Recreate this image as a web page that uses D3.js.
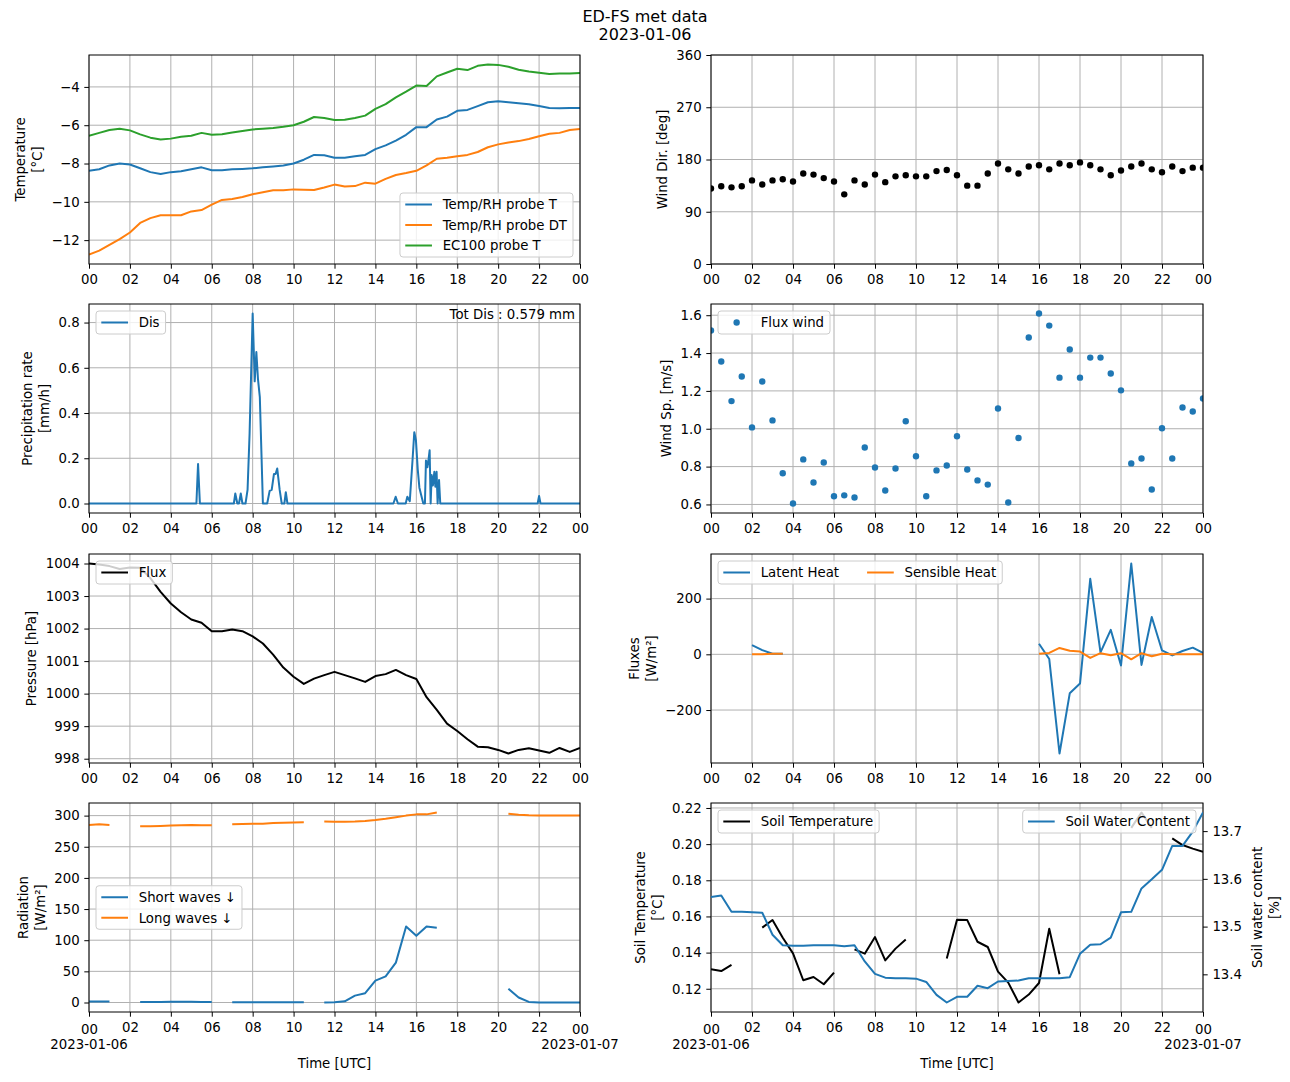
<!DOCTYPE html>
<html lang="en">
<head>
<meta charset="UTF-8">
<title>ED-FS met data</title>
<style>
  body { margin: 0; background: #fff; }
  text { font-family: "DejaVu Sans", sans-serif; fill: #000; }
  .tick text { font-size: 13.3px; }
</style>
</head>
<body>
<svg></svg>
<script src="https://d3js.org/d3.v7.min.js"></script>
<script>
// ---- data ----
const titleLines = ["ED-FS met data", "2023-01-06"];
const dateLabels = ["2023-01-06", "2023-01-07"];
const xTicks = [0, 2, 4, 6, 8, 10, 12, 14, 16, 18, 20, 22, 24];
const xTickLabels = ["00", "02", "04", "06", "08", "10", "12", "14", "16", "18", "20", "22", "00"];

// half-hour time base (hours since 2023-01-06 00:00 UTC)
const hours = [0, 0.5, 1, 1.5, 2, 2.5, 3, 3.5, 4, 4.5, 5, 5.5, 6, 6.5, 7, 7.5, 8, 8.5, 9, 9.5,
  10, 10.5, 11, 11.5, 12, 12.5, 13, 13.5, 14, 14.5, 15, 15.5, 16, 16.5, 17, 17.5, 18, 18.5, 19, 19.5,
  20, 20.5, 21, 21.5, 22, 22.5, 23, 23.5, 24];

const tempT = [-8.38, -8.3, -8.1, -8.0, -8.05, -8.25, -8.45, -8.55, -8.45, -8.4,
  -8.3, -8.2, -8.35, -8.35, -8.3, -8.28, -8.25, -8.2, -8.15, -8.1,
  -8.0, -7.8, -7.55, -7.57, -7.7, -7.7, -7.62, -7.55, -7.25, -7.05,
  -6.8, -6.5, -6.1, -6.1, -5.7, -5.55, -5.25, -5.2, -5.0, -4.8,
  -4.75, -4.8, -4.85, -4.9, -5.0, -5.1, -5.12, -5.1, -5.1];
const tempDT = [-12.75, -12.55, -12.25, -11.95, -11.6, -11.1, -10.85, -10.7, -10.7, -10.7,
  -10.5, -10.43, -10.15, -9.9, -9.85, -9.75, -9.6, -9.5, -9.4, -9.4,
  -9.35, -9.37, -9.38, -9.25, -9.1, -9.2, -9.18, -9.0, -9.05, -8.8,
  -8.6, -8.5, -8.38, -8.1, -7.75, -7.7, -7.62, -7.55, -7.4, -7.15,
  -7.0, -6.9, -6.83, -6.72, -6.58, -6.45, -6.4, -6.25, -6.2];
const ec100T = [-6.55, -6.4, -6.25, -6.18, -6.27, -6.48, -6.65, -6.75, -6.7, -6.6,
  -6.55, -6.4, -6.5, -6.47, -6.38, -6.3, -6.22, -6.18, -6.14, -6.08,
  -6.0, -5.82, -5.57, -5.62, -5.73, -5.72, -5.62, -5.5, -5.15, -4.9,
  -4.55, -4.25, -3.93, -3.95, -3.45, -3.25, -3.05, -3.12, -2.9, -2.83,
  -2.85, -2.95, -3.1, -3.2, -3.26, -3.33, -3.3, -3.3, -3.28];
const tempTicks = [-12, -10, -8, -6, -4];

const precipTime = [0, 5.25, 5.33, 5.42, 7.08, 7.15, 7.25, 7.33, 7.42, 7.5, 7.65, 7.75, 7.85, 8.0,
  8.1, 8.18, 8.26, 8.35, 8.5, 8.71, 8.83, 8.93, 9.04, 9.12, 9.2, 9.32, 9.42, 9.55, 9.62, 9.7,
  14.88, 14.99, 15.1, 15.48, 15.56, 15.68, 15.82, 15.9, 15.98, 16.07, 16.15, 16.23, 16.34, 16.42,
  16.47, 16.54, 16.59, 16.65, 16.7, 16.75, 16.81, 16.88, 16.93, 16.99, 17.04, 17.11, 17.17,
  21.93, 22.0, 22.07, 24];
const precipRate = [0, 0, 0.175, 0, 0, 0.044, 0, 0, 0.044, 0, 0, 0.06, 0.31, 0.84,
  0.54, 0.67, 0.55, 0.47, 0, 0, 0.056, 0.06, 0.13, 0.13, 0.155, 0.06, 0, 0, 0.05, 0,
  0, 0.03, 0, 0, 0.03, 0.01, 0.2, 0.315, 0.28, 0.15, 0.07, 0.04, 0, 0,
  0.19, 0.16, 0.19, 0.235, 0, 0.126, 0.08, 0.14, 0.074, 0.14, 0, 0.104, 0,
  0, 0.033, 0, 0];
const precipTicks = [0, 0.2, 0.4, 0.6, 0.8];
const totDisText = "Tot Dis : 0.579 mm";

const pressure = [1004.0, 1003.97, 1003.92, 1003.83, 1003.88, 1003.87, 1003.55, 1003.13, 1002.77, 1002.5,
  1002.28, 1002.18, 1001.92, 1001.92, 1001.97, 1001.92, 1001.76, 1001.54, 1001.2, 1000.8,
  1000.52, 1000.3, 1000.46, 1000.57, 1000.67, 1000.57, 1000.47, 1000.36, 1000.54, 1000.6,
  1000.73, 1000.57, 1000.45, 999.89, 999.5, 999.08, 998.85, 998.6, 998.37, 998.35,
  998.27, 998.16, 998.27, 998.32, 998.25, 998.18, 998.33, 998.21, 998.33];
const pressTicks = [998, 999, 1000, 1001, 1002, 1003, 1004];

const shortWave = [1.5, 1.5, 1.5, null, null, 1, 1, 1, 1.2, 1.2,
  1.2, 1, 1, null, 0.5, 0.5, 0.5, 0.5, 0.5, 0.5,
  0.5, 0.5, null, 0, 0.5, 2, 11, 15, 35, 42,
  64, 122, 107, 122, 120, null, null, null, null, null,
  null, 22, 8, 1, 0, 0, 0, 0, 0];
const longWave = [285, 286, 285, null, null, 283, 283, 283.5, 284, 284.5,
  285, 284.5, 284.5, null, 286, 286.5, 287, 287, 288, 288.5,
  289, 289.5, null, 290.5, 290, 290, 290.5, 291.5, 293, 295,
  297.5, 300, 302, 302, 305, null, null, null, null, null,
  null, 303, 301.5, 300.5, 300, 300, 300, 300, 300];
const radTicks = [0, 50, 100, 150, 200, 250, 300];

const windDir = [130, 134, 132, 134, 144, 137, 144, 146, 142, 156,
  154, 148, 142, 120, 144, 137, 154, 141, 151, 153,
  151, 151, 160, 162, 153, 135, 135, 156, 173, 163,
  156, 168, 170, 163, 173, 170, 175, 170, 163, 153,
  161, 168, 173, 163, 158, 168, 160, 166, 166];
const dirTicks = [0, 90, 180, 270, 360];

const windSpeed = [1.519, 1.355, 1.146, 1.276, 1.007, 1.25, 1.044, 0.765, 0.605, 0.838,
  0.716, 0.822, 0.643, 0.648, 0.637, 0.901, 0.795, 0.674, 0.79, 1.04,
  0.855, 0.643, 0.78, 0.806, 0.96, 0.785, 0.727, 0.705, 1.107, 0.61,
  0.951, 1.482, 1.609, 1.545, 1.27, 1.419, 1.27, 1.376, 1.376, 1.292,
  1.203, 0.817, 0.843, 0.679, 1.003, 0.843, 1.112, 1.091, 1.16];
const speedTicks = [0.6, 0.8, 1.0, 1.2, 1.4, 1.6];

const latentHeat = [null, null, null, null, 33, 15, 2, 2, null, null,
  null, null, null, null, null, null, null, null, null, null,
  null, null, null, null, null, null, null, null, null, null,
  null, null, 38, -17, -356, -140, -105, 271, 7, 88,
  -40, 326, -38, 134, 14, -4, 12, 24, 5];
const sensibleHeat = [null, null, null, null, 0, 0, 2, 2, null, null,
  null, null, null, null, null, null, null, null, null, null,
  null, null, null, null, null, null, null, null, null, null,
  null, null, 2, 5, 23, 13, 10, -13, 4, -3,
  4, -18, 4, -7, 2, 0, 0, 0, 0];
const fluxTicks = [-200, 0, 200];

const soilTemp = [0.1308, 0.1298, 0.1332, null, null, 0.1538, 0.158, 0.1482, 0.1396, 0.1247,
  0.1265, 0.1225, 0.1289, null, 0.1418, 0.1394, 0.1486, 0.1357, 0.1422, 0.1473,
  null, null, null, 0.1368, 0.1582, 0.158, 0.146, 0.1431, 0.1295, 0.1234,
  0.1124, 0.1168, 0.1232, 0.1532, 0.128, null, null, null, null, null,
  null, 0.209, 0.2175, 0.209, null, 0.2032, 0.1995, 0.1975, 0.1957];
const soilWater = [13.562, 13.565, 13.531, 13.531, 13.53, 13.529, 13.483, 13.461, 13.46, 13.46,
  13.461, 13.461, 13.461, 13.459, 13.461, 13.427, 13.401, 13.393, 13.392, 13.392,
  13.391, 13.384, 13.357, 13.341, 13.353, 13.353, 13.376, 13.371, 13.385, 13.386,
  13.387, 13.392, 13.392, 13.392, 13.392, 13.394, 13.443, 13.462, 13.463, 13.477,
  13.53, 13.531, 13.58, 13.599, 13.619, 13.669, 13.669, 13.699, 13.739];
const soilTTicks = [0.12, 0.14, 0.16, 0.18, 0.20, 0.22];
const soilWTicks = [13.4, 13.5, 13.6, 13.7];

// ---- layout ----
const W = 1290, H = 1082;
const colX = [89, 711], axW = [491, 492];
const rowY = [55, 304, 554, 803], axH = 209;
const FS = 13.3;
const C = { blue: "#1f77b4", orange: "#ff7f0e", green: "#2ca02c", black: "#000000" };

const svg = d3.select("svg").attr("width", W).attr("height", H);

svg.append("text").attr("x", 645).attr("y", 22).attr("text-anchor", "middle")
  .style("font-size", "16px").text(titleLines[0]);
svg.append("text").attr("x", 645).attr("y", 39.5).attr("text-anchor", "middle")
  .style("font-size", "16px").text(titleLines[1]);

// matplotlib-like autoscale with 5% margins
function padded(...arrs) {
  const vals = arrs.flat().filter(v => v != null);
  const [lo, hi] = d3.extent(vals);
  const m = (hi - lo) * 0.05;
  return [lo - m, hi + m];
}

function yLabel(g, axisG, lines, side, shift = 0) {
  const bb = axisG.node().getBBox();
  const lh = 17, pad = 9.5;
  const cx = side === "left"
    ? bb.x - pad - (lines.length - 1) * lh
    : shift + bb.x + bb.width + pad + FS * 0.76;
  const t = g.append("text")
    .attr("transform", `translate(${cx},${axH / 2}) rotate(-90)`)
    .attr("text-anchor", "middle").style("font-size", FS + "px");
  lines.forEach((s, i) => t.append("tspan").attr("x", 0).attr("dy", i ? lh : 0).text(s));
}

function makePanel(col, row, yDomain, yTicks, yFmt, ylabel) {
  const w = axW[col], h = axH;
  const g = svg.append("g").attr("transform", `translate(${colX[col]},${rowY[row]})`);
  const x = d3.scaleLinear().domain([0, 24]).range([0, w]);
  const y = d3.scaleLinear().domain(yDomain).range([h, 0]);
  const clipId = `clip-${col}-${row}`;
  g.append("clipPath").attr("id", clipId).append("rect").attr("width", w).attr("height", h);

  const grid = g.append("g").attr("stroke", "#b0b0b0").attr("stroke-width", 1);
  grid.selectAll("line.gx").data(xTicks).join("line").attr("class", "gx")
    .attr("x1", d => x(d)).attr("x2", d => x(d)).attr("y1", 0).attr("y2", h);
  grid.selectAll("line.gy").data(yTicks).join("line").attr("class", "gy")
    .attr("x1", 0).attr("x2", w).attr("y1", d => y(d)).attr("y2", d => y(d));

  const plot = g.append("g").attr("clip-path", `url(#${clipId})`);

  const xa = g.append("g").attr("transform", `translate(0,${h})`)
    .call(d3.axisBottom(x).tickValues(xTicks).tickFormat((d, i) => xTickLabels[i])
      .tickSize(4.7).tickPadding(5.5));
  const ya = g.append("g")
    .call(d3.axisLeft(y).tickValues(yTicks).tickFormat(yFmt).tickSize(4.7).tickPadding(4.7));
  xa.select(".domain").remove();
  ya.select(".domain").remove();
  g.append("rect").attr("width", w).attr("height", h)
    .attr("fill", "none").attr("stroke", "#000").attr("stroke-width", 1);
  yLabel(g, ya, ylabel, "left");
  return { g, plot, x, y, w, h, xa };
}

function drawLine(layer, x, y, xs, ys, color) {
  layer.append("path").datum(xs.map((t, i) => [t, ys[i]]))
    .attr("fill", "none").attr("stroke", color).attr("stroke-width", 2)
    .attr("stroke-linejoin", "round")
    .attr("d", d3.line().defined(d => d[1] != null).x(d => x(d[0])).y(d => y(d[1])));
}

function drawDots(layer, x, y, xs, ys, color) {
  layer.selectAll(null).data(xs.map((t, i) => [t, ys[i]])).join("circle")
    .attr("cx", d => x(d[0])).attr("cy", d => y(d[1])).attr("r", 3.2).attr("fill", color);
}

function legend(p, items, loc, ncol = 1) {
  const lg = p.g.append("g");
  const box = lg.append("rect").attr("rx", 3).attr("fill", "#fff").attr("fill-opacity", 0.8)
    .attr("stroke", "#cccccc").attr("stroke-width", 1);
  const pad = 5.3, hl = 26.7, hgap = 10.7, rowH = 20.5, colGap = 28;
  const nodes = items.map(it => {
    const e = lg.append("g");
    if (it.dot) e.append("circle").attr("cx", hl / 2).attr("r", 3.2).attr("fill", it.color);
    else e.append("line").attr("x1", 0).attr("x2", hl).attr("stroke", it.color).attr("stroke-width", 2);
    const t = e.append("text").attr("x", hl + hgap).attr("dy", "0.36em")
      .style("font-size", FS + "px").text(it.label);
    return { e, tw: t.node().getComputedTextLength() };
  });
  const nrow = Math.ceil(items.length / ncol);
  let xoff = pad;
  for (let c = 0; c < ncol; c++) {
    const colNodes = nodes.slice(c * nrow, (c + 1) * nrow);
    const cw = d3.max(colNodes, n => hl + hgap + n.tw);
    colNodes.forEach((n, r) => n.e.attr("transform", `translate(${xoff},${11.5 + r * rowH})`));
    xoff += cw + colGap;
  }
  const bw = xoff - colGap + 6;
  const bh = 23 + (nrow - 1) * rowH;
  box.attr("width", bw).attr("height", bh);
  let tx = 7, ty = 7;
  if (loc === "upper right" || loc === "lower right") tx = p.w - 7 - bw;
  if (loc === "lower right") ty = p.h - 7 - bh;
  if (loc === "center left") ty = (p.h - bh) / 2;
  lg.attr("transform", `translate(${tx},${ty})`);
}

function bottomLabels(p) {
  const ticks = p.xa.selectAll(".tick text");
  const n = ticks.size();
  ticks.filter((d, i) => i === 0 || i === n - 1).attr("y", +ticks.attr("y") + 2);
  [0, 24].forEach((t, i) => {
    p.g.append("text").attr("x", p.x(t)).attr("y", p.h + 37).attr("text-anchor", "middle")
      .style("font-size", FS + "px").text(dateLabels[i]);
  });
  p.g.append("text").attr("x", p.w / 2).attr("y", p.h + 56).attr("text-anchor", "middle")
    .style("font-size", FS + "px").text("Time [UTC]");
}

const f0 = d3.format("d"), f1 = d3.format(".1f"), f2 = d3.format(".2f");

// Temperature
const pT = makePanel(0, 0, padded(tempT, tempDT, ec100T), tempTicks, f0, ["Temperature", "[°C]"]);
drawLine(pT.plot, pT.x, pT.y, hours, tempT, C.blue);
drawLine(pT.plot, pT.x, pT.y, hours, tempDT, C.orange);
drawLine(pT.plot, pT.x, pT.y, hours, ec100T, C.green);
legend(pT, [{ label: "Temp/RH probe T", color: C.blue }, { label: "Temp/RH probe DT", color: C.orange },
  { label: "EC100 probe T", color: C.green }], "lower right");

// Precipitation
const pP = makePanel(0, 1, padded(precipRate), precipTicks, f1, ["Precipitation rate", "[mm/h]"]);
drawLine(pP.plot, pP.x, pP.y, precipTime, precipRate, C.blue);
legend(pP, [{ label: "Dis", color: C.blue }], "upper left");
pP.g.append("text").attr("x", pP.w - 5).attr("y", 15).attr("text-anchor", "end")
  .style("font-size", FS + "px").text(totDisText);

// Pressure
const pPr = makePanel(0, 2, padded(pressure), pressTicks, f0, ["Pressure [hPa]"]);
drawLine(pPr.plot, pPr.x, pPr.y, hours, pressure, C.black);
legend(pPr, [{ label: "Flux", color: C.black }], "upper left");

// Radiation
const pR = makePanel(0, 3, padded(shortWave, longWave), radTicks, f0, ["Radiation", "[W/m²]"]);
drawLine(pR.plot, pR.x, pR.y, hours, shortWave, C.blue);
drawLine(pR.plot, pR.x, pR.y, hours, longWave, C.orange);
legend(pR, [{ label: "Short waves ↓", color: C.blue }, { label: "Long waves ↓", color: C.orange }], "center left");
bottomLabels(pR);

// Wind direction
const pD = makePanel(1, 0, [0, 360], dirTicks, f0, ["Wind Dir. [deg]"]);
drawDots(pD.plot, pD.x, pD.y, hours, windDir, C.black);

// Wind speed
const pS = makePanel(1, 1, padded(windSpeed), speedTicks, f1, ["Wind Sp. [m/s]"]);
drawDots(pS.plot, pS.x, pS.y, hours, windSpeed, C.blue);
legend(pS, [{ label: "Flux wind", color: C.blue, dot: true }], "upper left");

// Fluxes
const pF = makePanel(1, 2, padded(latentHeat, sensibleHeat), fluxTicks, f0, ["Fluxes", "[W/m²]"]);
drawLine(pF.plot, pF.x, pF.y, hours, latentHeat, C.blue);
drawLine(pF.plot, pF.x, pF.y, hours, sensibleHeat, C.orange);
legend(pF, [{ label: "Latent Heat", color: C.blue }, { label: "Sensible Heat", color: C.orange }], "upper left", 2);

// Soil
const pG = makePanel(1, 3, padded(soilTemp), soilTTicks, f2, ["Soil Temperature", "[°C]"]);
drawLine(pG.plot, pG.x, pG.y, hours, soilTemp, C.black);
legend(pG, [{ label: "Soil Temperature", color: C.black }], "upper left");
const y2 = d3.scaleLinear().domain(padded(soilWater)).range([pG.h, 0]);
const plot2 = pG.g.append("g").attr("clip-path", "url(#clip-1-3)");
drawLine(plot2, pG.x, y2, hours, soilWater, C.blue);
const ya2 = pG.g.append("g").attr("transform", `translate(${pG.w},0)`)
  .call(d3.axisRight(y2).tickValues(soilWTicks).tickFormat(f1).tickSize(4.7).tickPadding(4.7));
ya2.select(".domain").remove();
yLabel(pG.g, ya2, ["Soil water content", "[%]"], "right", pG.w);
legend(pG, [{ label: "Soil Water Content", color: C.blue }], "upper right");
bottomLabels(pG);
</script>
</body>
</html>
